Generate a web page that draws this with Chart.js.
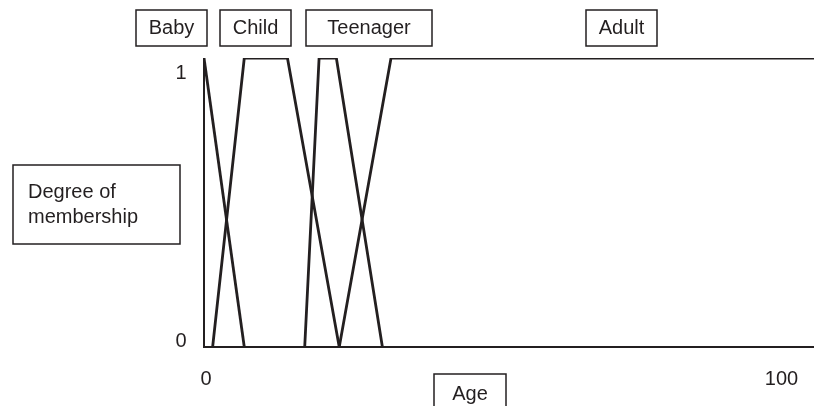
<!DOCTYPE html>
<html>
<head>
<meta charset="utf-8">
<script src="https://cdn.jsdelivr.net/npm/chart.js@4.4.1/dist/chart.umd.min.js"></script>
<style>
  html, body { margin: 0; padding: 0; background: #fff; }
  #wrap { width: 814px; height: 406px; position: relative; }
</style>
</head>
<body>
<div id="wrap"><canvas id="fuzzyChart" width="814" height="406"></canvas></div>
<script>
// fuzzy sets: age (x) and degree of membership (y)
const setNames = ['Baby', 'Child', 'Teenager', 'Adult'];
const babyAge = [0, 7];
const babyDeg = [1, 0];
const childAge = [1.5, 7, 14.5, 23.5];
const childDeg = [0, 1, 1, 0];
const teenAge = [17.5, 20, 23, 31];
const teenDeg = [0, 1, 1, 0];
const adultAge = [23.5, 32.5, 106];
const adultDeg = [0, 1, 1];
const xTicks = [0, 100];
const yTicks = [0, 1];
const xTitle = 'Age';
const yTitle = ['Degree of', 'membership'];

const INK = '#231f20';
const FONT = '20px "Liberation Sans", Arial, sans-serif';

function toPoints(xs, ys) {
    return xs.map((x, i) => ({ x: x, y: ys[i] }));
}

function boxText(ctx, x, y, w, h, lines, align) {
    ctx.strokeStyle = INK;
    ctx.lineWidth = 1.5;
    ctx.strokeRect(x, y, w, h);
    ctx.fillStyle = INK;
    ctx.textBaseline = 'middle';
    ctx.textAlign = align || 'center';
    const lh = 25;
    const startY = y + h / 2 - (lines.length - 1) * lh / 2;
    lines.forEach((t, i) => {
        const tx = align === 'left' ? x + 15 : x + w / 2;
        ctx.fillText(t, tx, startY + i * lh);
    });
}

// desenha eixos, ticks e caixas de texto
const decorPlugin = {
    id: 'decor',
    beforeDatasetsDraw(chart) {
        const ctx = chart.ctx;
        const xs = chart.scales.x, ys = chart.scales.y;
        ctx.save();
        ctx.strokeStyle = INK;
        ctx.lineWidth = 2;
        ctx.beginPath();
        ctx.moveTo(xs.getPixelForValue(0), ys.getPixelForValue(1));
        ctx.lineTo(xs.getPixelForValue(0), ys.getPixelForValue(0));
        ctx.lineTo(chart.chartArea.right, ys.getPixelForValue(0));
        ctx.stroke();
        ctx.restore();
    },
    afterDraw(chart) {
        const ctx = chart.ctx;
        const xs = chart.scales.x, ys = chart.scales.y;
        ctx.save();
        ctx.font = FONT;
        ctx.fillStyle = INK;
        ctx.textBaseline = 'middle';
        ctx.textAlign = 'center';

        // y tick labels
        const yOff = { 0: -6, 1: 15 };
        yTicks.forEach(v => {
            ctx.fillText(String(v), xs.getPixelForValue(0) - 23, ys.getPixelForValue(v) + yOff[v]);
        });
        // x tick labels
        xTicks.forEach(v => {
            ctx.fillText(String(v), xs.getPixelForValue(v) + 2, ys.getPixelForValue(0) + 32);
        });

        // set name boxes on top
        const boxes = [[136, 71], [220, 71], [306, 126], [586, 71]];
        setNames.forEach((name, i) => {
            boxText(ctx, boxes[i][0], 10, boxes[i][1], 36, [name]);
        });

        // axis title boxes
        boxText(ctx, 13, 165, 167, 79, yTitle, 'left');
        boxText(ctx, 434, 374, 72, 40, [xTitle]);
        ctx.restore();
    }
};

const lineStyle = {
    borderColor: INK,
    borderWidth: 2.8,
    pointRadius: 0,
    tension: 0,
    fill: false,
    borderJoinStyle: 'miter'
};

new Chart('fuzzyChart', {
    type: 'line',
    data: {
        datasets: [
            { label: setNames[0], data: toPoints(babyAge, babyDeg), ...lineStyle },
            { label: setNames[1], data: toPoints(childAge, childDeg), ...lineStyle },
            { label: setNames[2], data: toPoints(teenAge, teenDeg), ...lineStyle },
            { label: setNames[3], data: toPoints(adultAge, adultDeg), ...lineStyle }
        ]
    },
    options: {
        responsive: false,
        animation: false,
        layout: { padding: { left: 204, right: 0, top: 58, bottom: 59 } },
        plugins: { legend: { display: false }, tooltip: { enabled: false } },
        scales: {
            x: { type: 'linear', min: 0, max: 106, display: false },
            y: { type: 'linear', min: 0, max: 1, display: false }
        }
    },
    plugins: [decorPlugin]
});
</script>
</body>
</html>
